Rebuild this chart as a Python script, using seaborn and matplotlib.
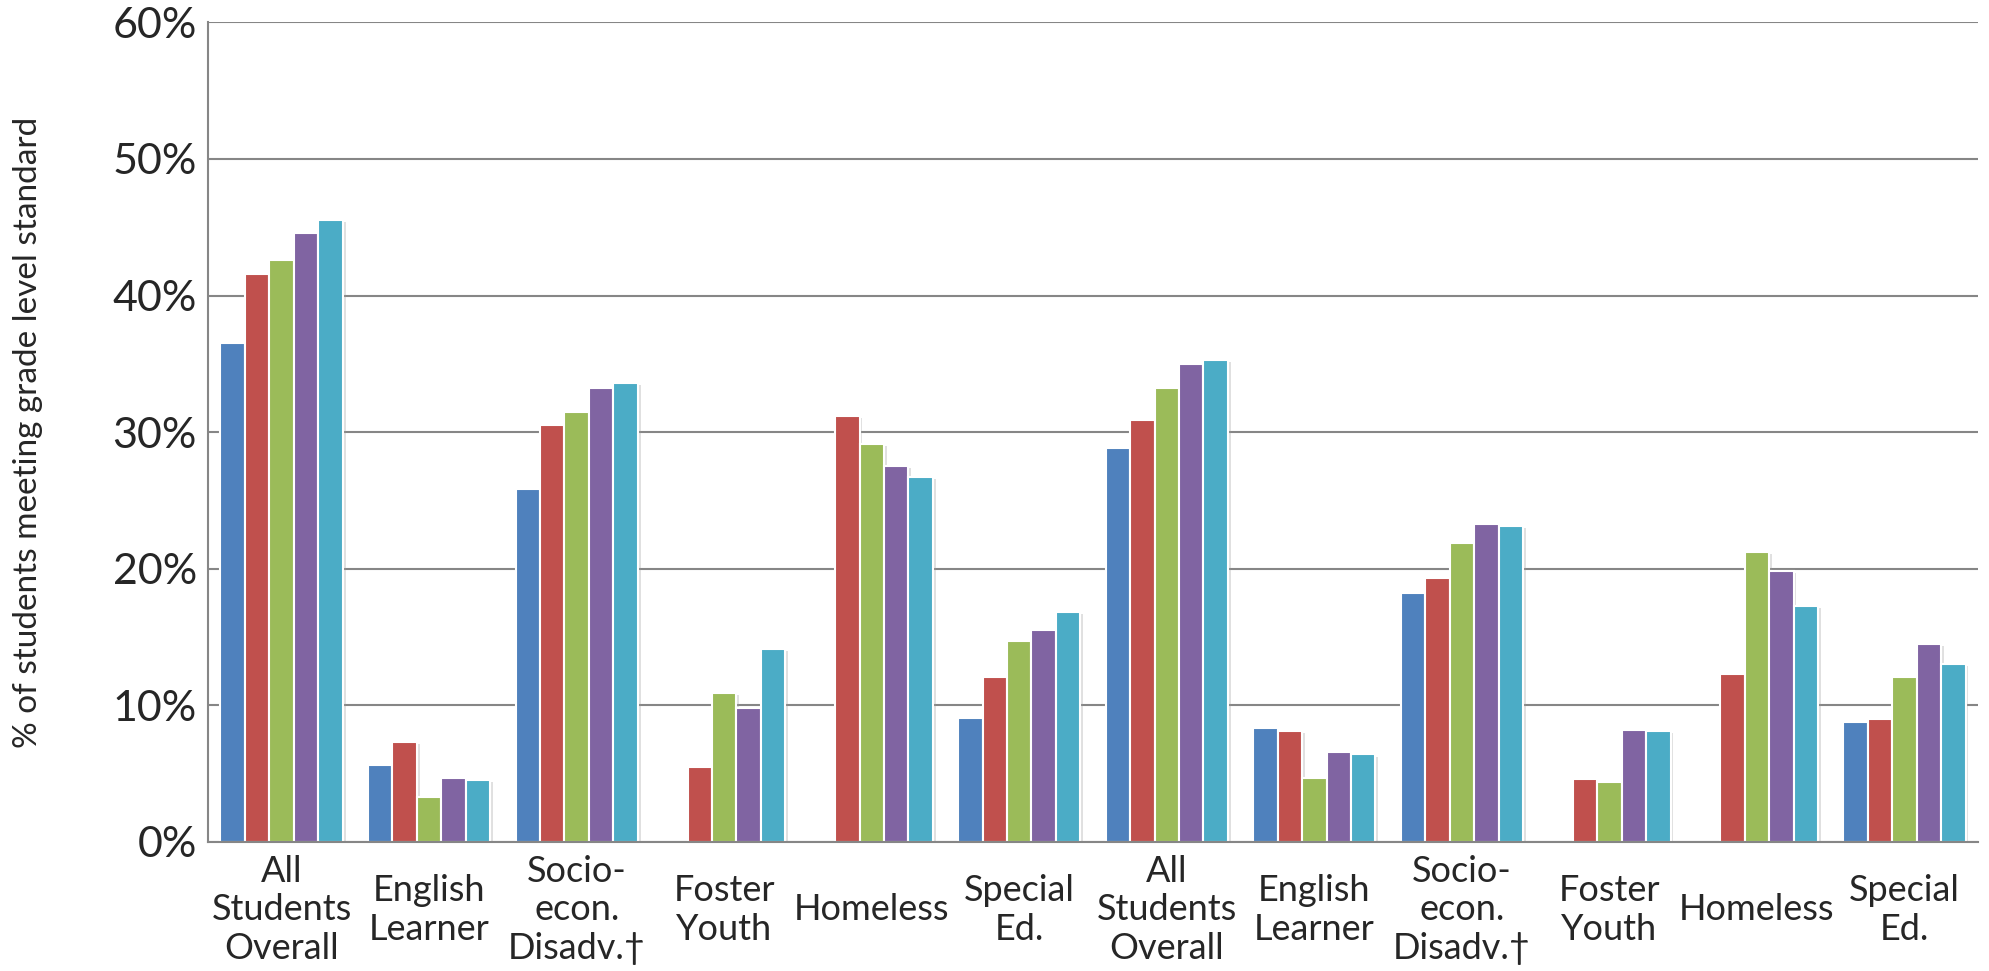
import matplotlib
matplotlib.use("Agg")
import matplotlib.pyplot as plt
import matplotlib.patheffects as pe
from matplotlib.ticker import FuncFormatter, FixedLocator
import seaborn as sns
import numpy as np
import pandas as pd

# category labels (the six subgroups appear twice)
labels = ["All\nStudents\nOverall", "English\nLearner", "Socio-\necon.\nDisadv.\u2020",
          "Foster\nYouth", "Homeless", "Special\nEd."] * 2
series = ["S1", "S2", "S3", "S4", "S5"]

# % of students meeting the standard, one list per series (NaN = no bar)
s1 = [36.5, 5.6, 25.8, np.nan, np.nan, 9.1, 28.8, 8.3, 18.2, np.nan, np.nan, 8.8]
s2 = [41.6, 7.3, 30.5, 5.5, 31.2, 12.1, 30.9, 8.1, 19.3, 4.6, 12.3, 9.0]
s3 = [42.6, 3.3, 31.5, 10.9, 29.1, 14.7, 33.2, 4.7, 21.9, 4.4, 21.2, 12.1]
s4 = [44.6, 4.7, 33.2, 9.8, 27.5, 15.5, 35.0, 6.6, 23.3, 8.2, 19.8, 14.5]
s5 = [45.5, 4.5, 33.6, 14.1, 26.7, 16.8, 35.3, 6.4, 23.1, 8.1, 17.3, 13.0]

colors = ["#4F81BD", "#C0504D", "#9BBB59", "#8064A2", "#4BACC6"]

keys = [f"c{i}" for i in range(len(labels))]
rows = []
for name, vals in zip(series, [s1, s2, s3, s4, s5]):
    for k, v in zip(keys, vals):
        rows.append({"cat": k, "series": name, "value": v})
df = pd.DataFrame(rows)

sns.set_style("white")
plt.rcParams["font.family"] = ["Lato", "DejaVu Sans"]

fig = plt.figure(figsize=(19.9, 9.71), dpi=100)
ax = fig.add_axes([0.1045, 0.133, 0.8895, 0.844])
ax.set_axisbelow(True)

sns.barplot(data=df, x="cat", y="value", hue="series", order=keys,
            hue_order=series, palette=colors, saturation=1, width=0.83,
            edgecolor="white", linewidth=1.5, legend=False, ax=ax)

shadow = [pe.SimplePatchShadow(offset=(2.0, -1.5), shadow_rgbFace="#999999", alpha=0.3),
          pe.Normal()]
for p in ax.patches:
    p.set_path_effects(shadow)

ax.set_ylim(0, 60)
ax.set_xlim(-0.5, len(labels) - 0.5)
ax.set_yticks(np.arange(0, 61, 10))
ax.yaxis.set_major_formatter(FuncFormatter(lambda v, _: f"{v:.0f}%"))
ax.grid(axis="y", color="#868686", linewidth=1.5)
ax.grid(axis="x", visible=False)

for side in ["left", "bottom"]:
    ax.spines[side].set_color("#868686")
    ax.spines[side].set_linewidth(1.5)
ax.spines["right"].set_visible(False)
ax.spines["top"].set_visible(False)

ax.set_xticks(range(len(labels)))
ax.set_xticklabels(labels, fontsize=26, linespacing=1.2)
for t in ax.get_xticklabels():
    t.set_va("center")
ax.tick_params(axis="x", which="major", length=0, pad=49)
ax.xaxis.set_minor_locator(FixedLocator(np.arange(0.5, len(labels) - 1, 1.0)))
ax.tick_params(axis="x", which="minor", length=88, width=1.5, color="#868686", direction="out")
ax.tick_params(axis="y", length=0, pad=8, labelsize=31)

ax.set_xlabel("")
ax.set_ylabel("% of students meeting grade level standard", fontsize=24, labelpad=50)

fig.savefig("out.png", dpi=100)
